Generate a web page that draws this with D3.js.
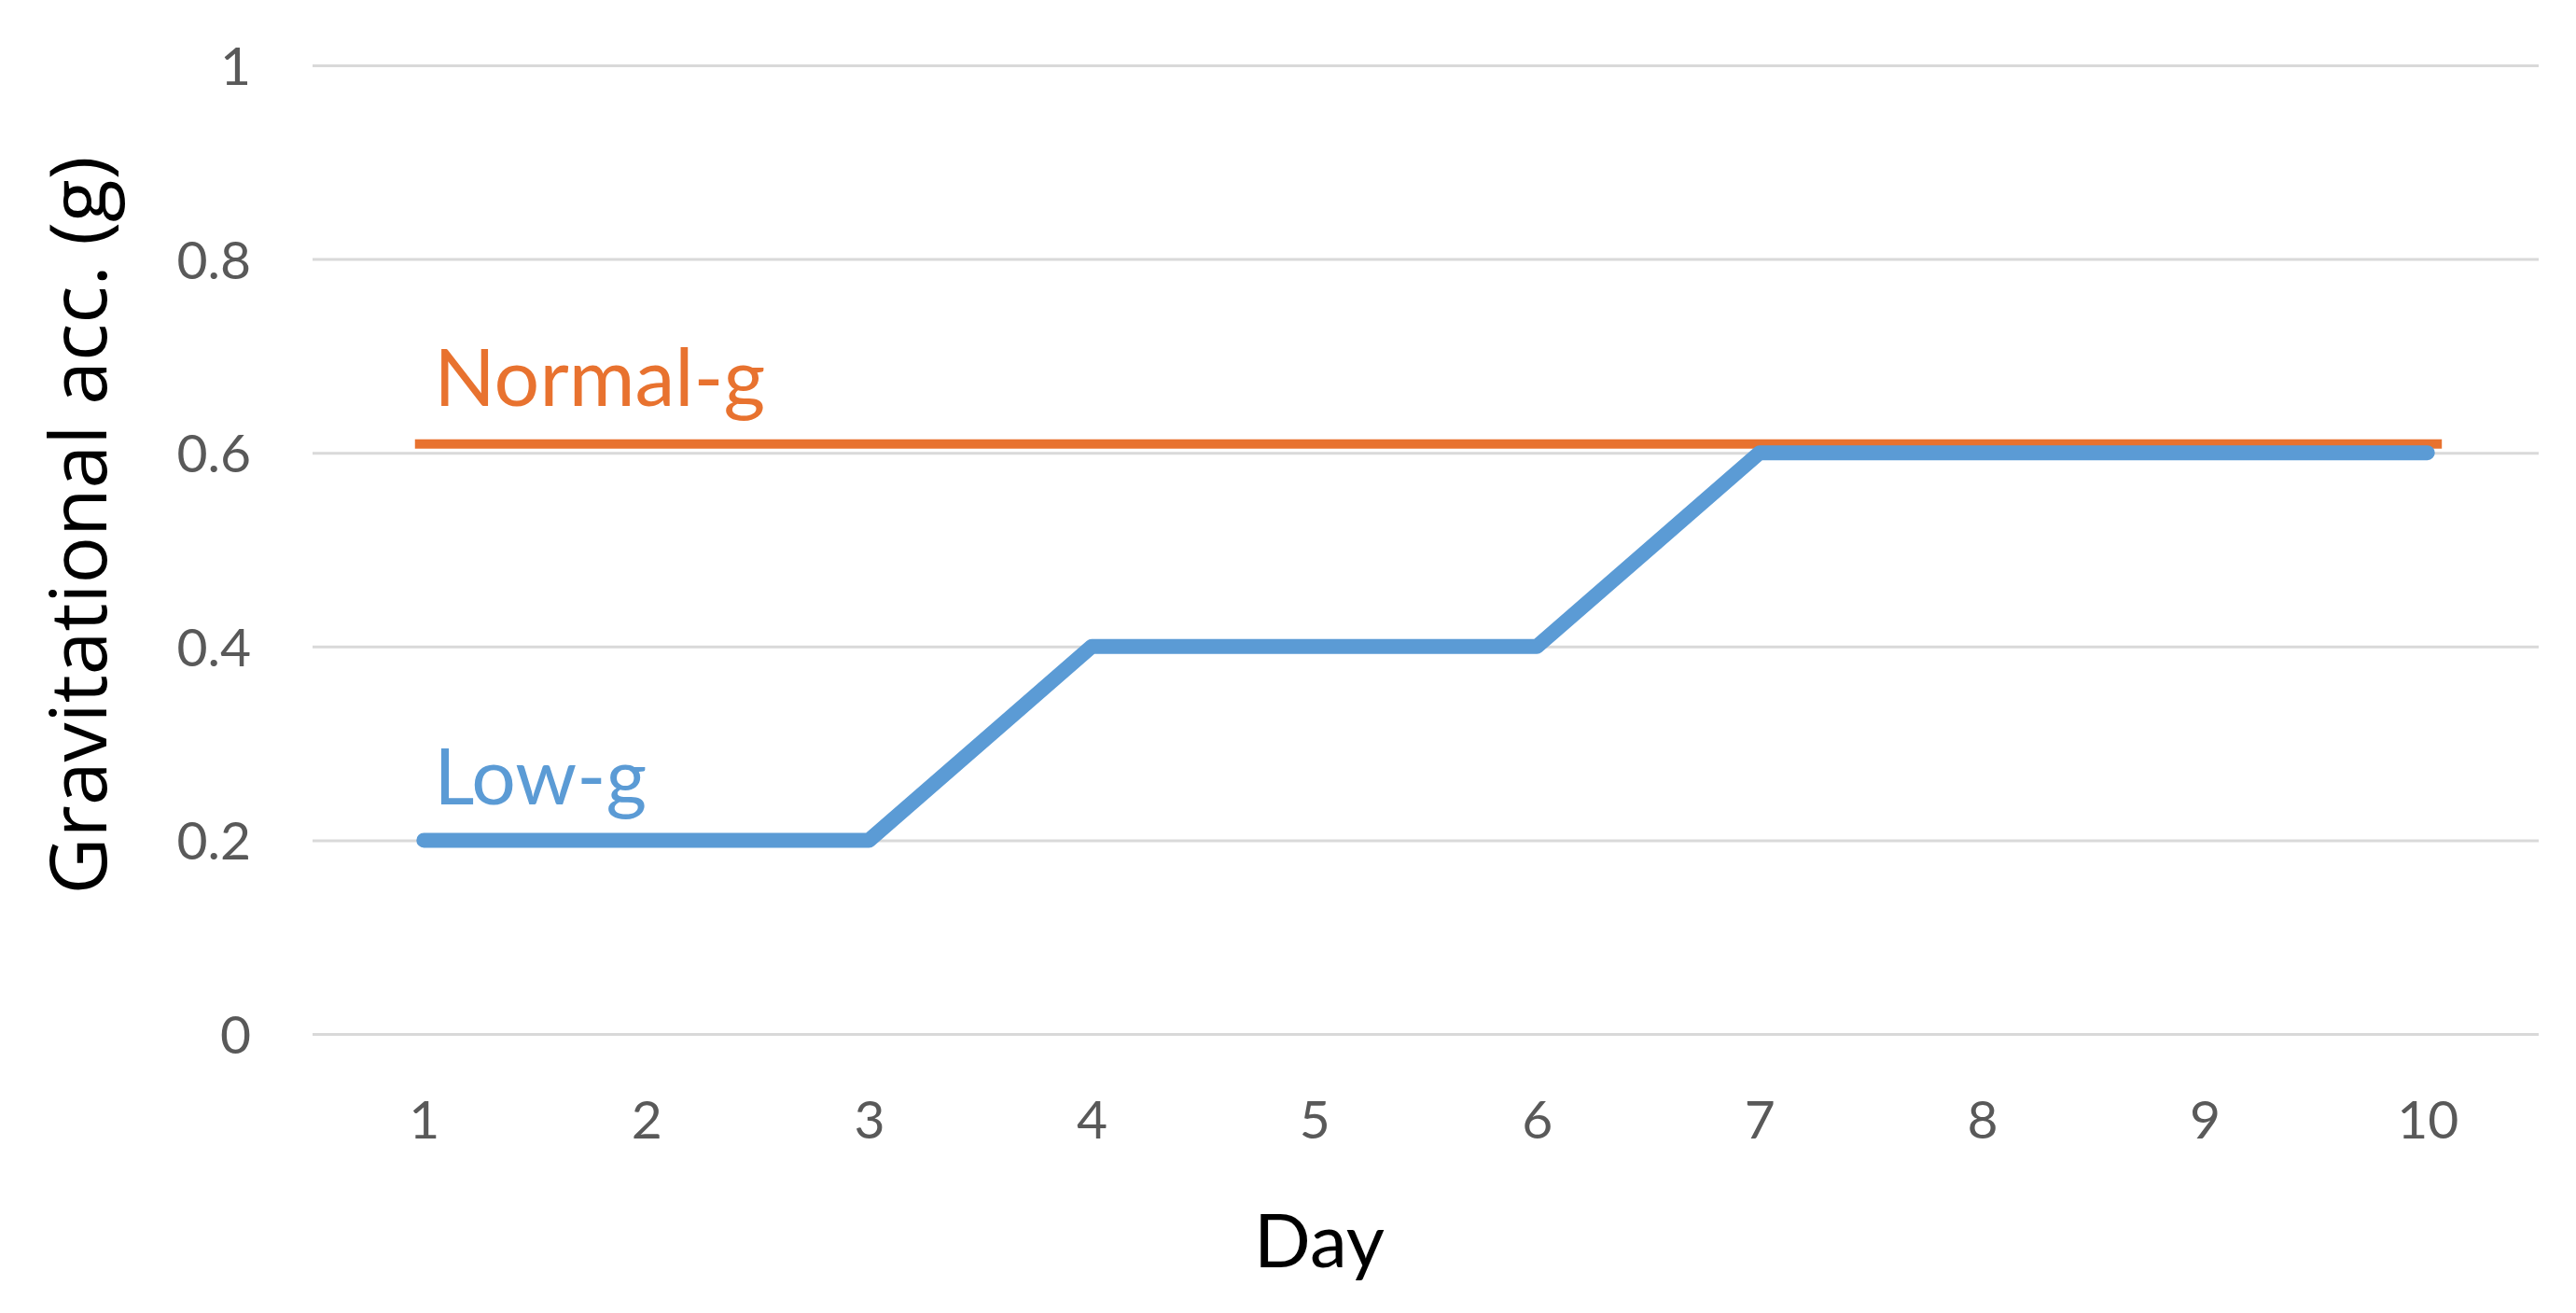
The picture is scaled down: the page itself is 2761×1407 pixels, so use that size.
<!DOCTYPE html>
<html>
<head>
<meta charset="utf-8">
<script src="https://cdn.jsdelivr.net/npm/d3@7"></script>
<style>
  html, body { margin: 0; padding: 0; background: #fff; }
  svg { display: block; }
</style>
</head>
<body>
<svg id="chart" width="2761" height="1407"></svg>
<script>
// ---- data ----
const days = [1, 2, 3, 4, 5, 6, 7, 8, 9, 10];
const lowG = [0.2, 0.2, 0.2, 0.4, 0.4, 0.4, 0.6, 0.6, 0.6, 0.6];
const normalGDays = [0.96, 10.065];
const normalG = [0.609, 0.609];
const yTicks = [0, 0.2, 0.4, 0.6, 0.8, 1];
const yTickLabels = ["0", "0.2", "0.4", "0.6", "0.8", "1"];
const xTickLabels = ["1", "2", "3", "4", "5", "6", "7", "8", "9", "10"];
const seriesNames = ["Low-g", "Normal-g"];
const xTitle = "Day";
const yTitle = "Gravitational acc. (g)";

// ---- layout ----
const svg = d3.select("#chart");
const plotLeft = 335, plotRight = 2721, plotTop = 70, plotBottom = 1108;

const x = d3.scaleLinear().domain([0.5, 10.5]).range([plotLeft, plotRight]);
const y = d3.scaleLinear().domain([0, 1]).range([plotBottom, plotTop]);

const labelColor = "#595959";
const blue = "#5B9BD5";
const orange = "#E8722F";

// gridlines
const yAxis = d3.axisLeft(y)
  .tickValues(yTicks)
  .tickSize(-(plotRight - plotLeft))
  .tickPadding(66)
  .tickFormat((d, i) => yTickLabels[i]);
const gy = svg.append("g").attr("transform", `translate(${plotLeft},0)`).call(yAxis);
gy.select(".domain").remove();
gy.selectAll(".tick line").attr("stroke", "#d9d9d9").attr("stroke-width", 3);
gy.selectAll(".tick text")
  .attr("fill", labelColor)
  .attr("font-family", "Lato, 'Open Sans', sans-serif")
  .attr("font-size", 57)
  .attr("dy", "0.36em");

// x axis labels (no line)
const xAxis = d3.axisBottom(x)
  .tickValues(days)
  .tickSize(0)
  .tickPadding(0)
  .tickFormat((d, i) => xTickLabels[i]);
const gx = svg.append("g").attr("transform", `translate(0,${plotBottom})`).call(xAxis);
gx.select(".domain").remove();
gx.selectAll(".tick text")
  .attr("fill", labelColor)
  .attr("font-family", "Lato, 'Open Sans', sans-serif")
  .attr("font-size", 57)
  .attr("y", 112)
  .attr("dy", 0);

// Normal-g line
const normalData = normalGDays.map((d, i) => [d, normalG[i]]);
svg.append("path")
  .datum(normalData)
  .attr("fill", "none")
  .attr("stroke", orange)
  .attr("stroke-width", 10)
  .attr("stroke-linecap", "butt")
  .attr("d", d3.line().x(d => x(d[0])).y(d => y(d[1])));

// Low-g line
const lowData = days.map((d, i) => [d, lowG[i]]);
svg.append("path")
  .datum(lowData)
  .attr("fill", "none")
  .attr("stroke", blue)
  .attr("stroke-width", 16)
  .attr("stroke-linecap", "round")
  .attr("stroke-linejoin", "round")
  .attr("d", d3.line().x(d => x(d[0])).y(d => y(d[1])));

// series labels
svg.append("text")
  .attr("x", x(1) + 11).attr("y", y(0.2) - 38)
  .attr("fill", blue)
  .attr("font-family", "Lato, 'Open Sans', sans-serif")
  .attr("font-size", 84)
  .text(seriesNames[0]);
svg.append("text")
  .attr("x", x(1) + 11).attr("y", y(0.6) - 50)
  .attr("fill", orange)
  .attr("font-family", "Lato, 'Open Sans', sans-serif")
  .attr("font-size", 86)
  .text(seriesNames[1]);

// axis titles
svg.append("text")
  .attr("x", 1414).attr("y", 1358)
  .attr("text-anchor", "middle")
  .attr("fill", "#000")
  .attr("font-family", "Lato, 'Open Sans', sans-serif")
  .attr("font-size", 80)
  .text(xTitle);
svg.append("text")
  .attr("transform", "translate(114,563) rotate(-90)")
  .attr("text-anchor", "middle")
  .attr("fill", "#000")
  .attr("font-family", "'Open Sans', sans-serif")
  .attr("font-size", 84)
  .text(yTitle);
</script>
</body>
</html>
